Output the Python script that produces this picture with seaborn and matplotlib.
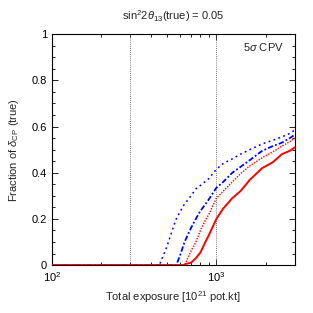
import matplotlib
matplotlib.use("Agg")
import matplotlib.pyplot as plt
import seaborn as sns
import pandas as pd
import numpy as np
from matplotlib.ticker import MultipleLocator, LogLocator, NullFormatter

sns.set_theme(style="white")
plt.rcParams['font.family'] = ['Liberation Sans', 'DejaVu Sans']
plt.rcParams['mathtext.fontset'] = 'custom'
plt.rcParams['mathtext.rm'] = 'Liberation Sans'
plt.rcParams['mathtext.it'] = 'Liberation Sans:italic'

exposure = [100, 450, 500, 550, 570, 600, 640, 650, 700, 750, 800, 850, 900, 1000,
            1100, 1250, 1400, 1600, 1900, 2200, 2500, 2800, 3000]
blue_dotted = [0, 0, 0.08, 0.17, 0.20, 0.23, 0.265, 0.27, 0.30, 0.33, 0.345, 0.36, 0.375, 0.415,
               0.44, 0.46, 0.48, 0.50, 0.525, 0.54, 0.555, 0.57, 0.585]
blue_dashdot = [0, 0, 0, 0, 0, 0.04, 0.10, 0.11, 0.16, 0.20, 0.235, 0.26, 0.285, 0.335,
                0.36, 0.40, 0.425, 0.455, 0.495, 0.515, 0.53, 0.55, 0.565]
red_dotted = [0, 0, 0, 0, 0, 0, 0, 0.01, 0.06, 0.10, 0.15, 0.19, 0.22, 0.29,
              0.32, 0.36, 0.395, 0.43, 0.465, 0.49, 0.515, 0.535, 0.55]
red_solid = [0, 0, 0, 0, 0, 0, 0, 0.005, 0.01, 0.03, 0.055, 0.095, 0.13, 0.20,
             0.245, 0.29, 0.32, 0.37, 0.42, 0.445, 0.48, 0.495, 0.51]
vlines = [300, 1000]

fig = plt.figure(figsize=(3.13, 3.13), dpi=100)
ax = fig.add_axes([0.166, 0.153, 0.776, 0.738])

for xv in vlines:
    ax.axvline(xv, color='#555555', lw=0.6, ls=(0, (1, 1.5)), zorder=1)

series = [
    (blue_dotted, 'blue', (0, (1.2, 2.2)), 1.1),
    (blue_dashdot, 'blue', (0, (3, 1.2, 1, 1.2)), 1.3),
    (red_dotted, 'red', (0, (1, 1)), 1.0),
    (red_solid, 'red', '-', 1.4),
]
for vals, col, ls, lw in series:
    sns.lineplot(x=exposure, y=vals, ax=ax, color=col, lw=lw, linestyle=ls, zorder=3)

ax.set_xscale('log')
ax.set_xlim(100, 3000)
ax.set_ylim(0, 1)
ax.xaxis.set_major_locator(LogLocator(base=10))
ax.xaxis.set_minor_locator(LogLocator(base=10, subs=np.arange(2, 10)))
ax.xaxis.set_minor_formatter(NullFormatter())
ax.yaxis.set_major_locator(MultipleLocator(0.2))
ax.yaxis.set_minor_locator(MultipleLocator(0.05))
ax.set_yticks([0, 0.2, 0.4, 0.6, 0.8, 1])
ax.set_yticklabels(['0', '0.2', '0.4', '0.6', '0.8', '1'])

ax.tick_params(which='both', direction='in', bottom=True, left=True, top=True, right=True,
               labelsize=8, colors='black')
ax.tick_params(which='major', length=4, width=0.6)
ax.tick_params(which='minor', length=2, width=0.6)
for s in ax.spines.values():
    s.set_color('black')
    s.set_linewidth(0.8)

ax.set_xlabel(r'Total exposure [10$^{21}$ pot.kt]', fontsize=8, labelpad=4)
ax.set_ylabel(r'Fraction of $\delta_{\mathrm{CP}}$ (true)', fontsize=8, labelpad=8)
ax.set_title(r'sin$^2$2$\theta_{13}$(true) = 0.05', fontsize=8, pad=10)
ax.text(0.955, 0.945, r'5$\sigma$ CPV', transform=ax.transAxes, ha='right', va='center', fontsize=8)

fig.savefig('out.png', dpi=100)
